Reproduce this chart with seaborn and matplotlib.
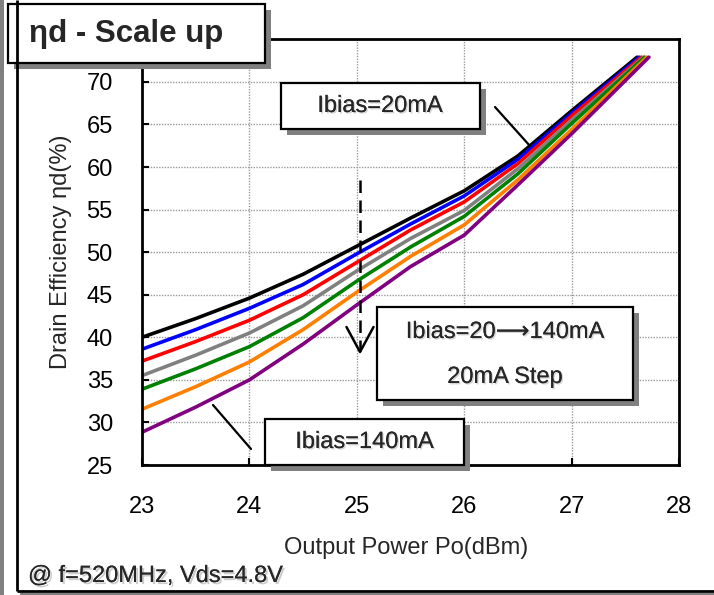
import numpy as np
import pandas as pd
import matplotlib
matplotlib.use("Agg")
import matplotlib.pyplot as plt
import matplotlib.patheffects as pe
from matplotlib.patches import Rectangle
import seaborn as sns

# ---------------- data ----------------
po_dbm = [23.0, 23.5, 24.0, 24.5, 25.0, 25.5, 26.0, 26.5, 27.0]
ibias_labels = ["20mA", "40mA", "60mA", "80mA", "100mA", "120mA", "140mA"]
eff_20mA = [40.0, 42.2, 44.6, 47.4, 50.7, 54.0, 57.2, 61.3, 66.6]
eff_40mA = [38.6, 40.9, 43.4, 46.2, 49.8, 53.3, 56.6, 60.9, 66.3]
eff_60mA = [37.2, 39.5, 42.0, 45.0, 48.8, 52.6, 55.9, 60.4, 66.0]
eff_80mA = [35.5, 37.9, 40.5, 43.7, 47.8, 51.6, 54.9, 59.8, 65.5]
eff_100mA = [33.9, 36.3, 38.9, 42.3, 46.6, 50.6, 54.2, 59.2, 65.1]
eff_120mA = [31.55, 34.2, 37.1, 40.9, 45.3, 49.5, 53.2, 58.5, 64.4]
eff_140mA = [28.85, 31.8, 35.0, 39.2, 43.8, 48.3, 52.0, 57.9, 63.9]
end_po = [27.61, 27.63, 27.65, 27.67, 27.68, 27.70, 27.72]
end_eff = [72.9, 72.9, 72.9, 72.9, 72.9, 72.9, 72.9]
line_colors = ["#000000", "#0000FF", "#FF0000", "#808080", "#008000", "#FF7F00", "#800080"]
x_ticks = [23, 24, 25, 26, 27, 28]
y_ticks = [25, 30, 35, 40, 45, 50, 55, 60, 65, 70]

series = [eff_20mA, eff_40mA, eff_60mA, eff_80mA, eff_100mA, eff_120mA, eff_140mA]
rows = []
for lab, vals, ex, ey in zip(ibias_labels, series, end_po, end_eff):
    for x, y in zip(po_dbm + [ex], vals + [ey]):
        rows.append({"Po": x, "Eff": y, "Ibias": lab})
df = pd.DataFrame(rows)

# ---------------- style ----------------
sns.set_style("white")
plt.rcParams["font.family"] = ["Liberation Sans", "DejaVu Sans"]
plt.rcParams["axes.grid"] = True
plt.rcParams["xtick.bottom"] = True
plt.rcParams["ytick.left"] = True
FS = 17

W, H = 714, 595
fig = plt.figure(figsize=(W / 100, H / 100), dpi=100)
fig.patch.set_facecolor("white")

ax_l, ax_r, ax_t, ax_b = 142, 679, 39.3, 465
ax = fig.add_axes([ax_l / W, 1 - ax_b / H, (ax_r - ax_l) / W, (ax_b - ax_t) / H])

sns.lineplot(data=df, x="Po", y="Eff", hue="Ibias", hue_order=ibias_labels,
             palette=line_colors, estimator=None, sort=False, linewidth=2.6,
             legend=False, ax=ax)

ax.set_xlim(23, 28)
ax.set_ylim(25, 75)
ax.set_xticks(x_ticks)
ax.set_yticks(y_ticks)
ax.set_xticklabels([str(v) for v in x_ticks])
ax.set_yticklabels([str(v) for v in y_ticks])
ax.tick_params(axis="both", which="major", direction="in", length=5, width=1.5,
               labelsize=FS, colors="black", bottom=True, left=True,
               top=False, right=False)
ax.tick_params(axis="y", pad=21)
ax.tick_params(axis="x", pad=22)
ax.set_axisbelow(True)
ax.xaxis.grid(True, color="#9A9A9A", linestyle=(0, (1, 1)), linewidth=1.0)
ax.yaxis.grid(True, color="#9A9A9A", linestyle=(0, (1, 1)), linewidth=1.0)
for s in ax.spines.values():
    s.set_visible(True)
    s.set_color("black")
    s.set_linewidth(2.0)

ax.set_xlabel("Output Power Po(dBm)", fontsize=FS)
ax.set_ylabel("Drain Efficiency ηd(%)", fontsize=FS)
ax.xaxis.set_label_coords((406 - ax_l) / (ax_r - ax_l), -(548 - ax_b) / (ax_b - ax_t))
ax.xaxis.label.set_va("center")
ax.yaxis.set_label_coords(-(ax_l - 61) / (ax_r - ax_l), 0.5)
ax.yaxis.label.set_va("center")

# ---------------- overlay (pixel coordinates) ----------------
ov = fig.add_axes([0, 0, 1, 1], zorder=10)
ov.set_xlim(0, W)
ov.set_ylim(H, 0)
ov.axis("off")
ov.patch.set_alpha(0)

# outer frame
ov.add_patch(Rectangle((0, 0), 4, H, facecolor="#808080", edgecolor="none"))
ov.plot([17, 17], [0, 591], color="black", lw=2.0, solid_capstyle="butt")
ov.plot([17, W], [591, 591], color="black", lw=2.0, solid_capstyle="butt")
ov.add_patch(Rectangle((20, 592.5), W - 20, 3, facecolor="#808080", edgecolor="none"))


def shadow_box(x0, y0, x1, y1, off=6):
    ov.add_patch(Rectangle((x0 + off, y0 + off), x1 - x0, y1 - y0,
                           facecolor="#808080", edgecolor="none"))
    ov.add_patch(Rectangle((x0, y0), x1 - x0, y1 - y0, facecolor="white",
                           edgecolor="black", linewidth=1.6))


txt_shadow = [pe.withSimplePatchShadow(offset=(1.0, -1.0), shadow_rgbFace="#AAAAAA", alpha=0.5),
              pe.Normal()]

# title box
shadow_box(8, 4, 265, 63, off=6)
ov.text(29, 34, "ηd - Scale up", fontsize=22.5, fontweight="bold", ha="left", va="center")

# Ibias=20mA box
ov.plot([495, 530], [107, 146], color="black", lw=1.6)
shadow_box(281, 83, 480, 129)
ov.text(380, 106, "Ibias=20mA", fontsize=FS, ha="center", va="center", path_effects=txt_shadow)

# Ibias=140mA box
ov.plot([213, 251], [405, 449], color="black", lw=1.6)
shadow_box(265, 419, 464, 465)
ov.text(364.5, 442, "Ibias=140mA", fontsize=FS, ha="center", va="center", path_effects=txt_shadow)

# step arrow
ov.plot([360, 360], [180, 351], color="black", lw=1.8, linestyle=(0, (5, 3)))
ov.plot([346.5, 360, 373.5], [327, 352, 327], color="black", lw=1.8)

# step box
shadow_box(377, 307, 633, 400)
ov.text(505, 332, "Ibias=20⟶140mA", fontsize=FS, ha="center", va="center", path_effects=txt_shadow)
ov.text(505, 377, "20mA Step", fontsize=FS, ha="center", va="center", path_effects=txt_shadow)

# condition note
ov.text(28, 576, "@ f=520MHz, Vds=4.8V", fontsize=FS, ha="left", va="center",
        path_effects=[pe.withSimplePatchShadow(offset=(1.5, -1.5), shadow_rgbFace="#999999", alpha=0.5),
                      pe.Normal()])

fig.savefig("out.png", dpi=100)
